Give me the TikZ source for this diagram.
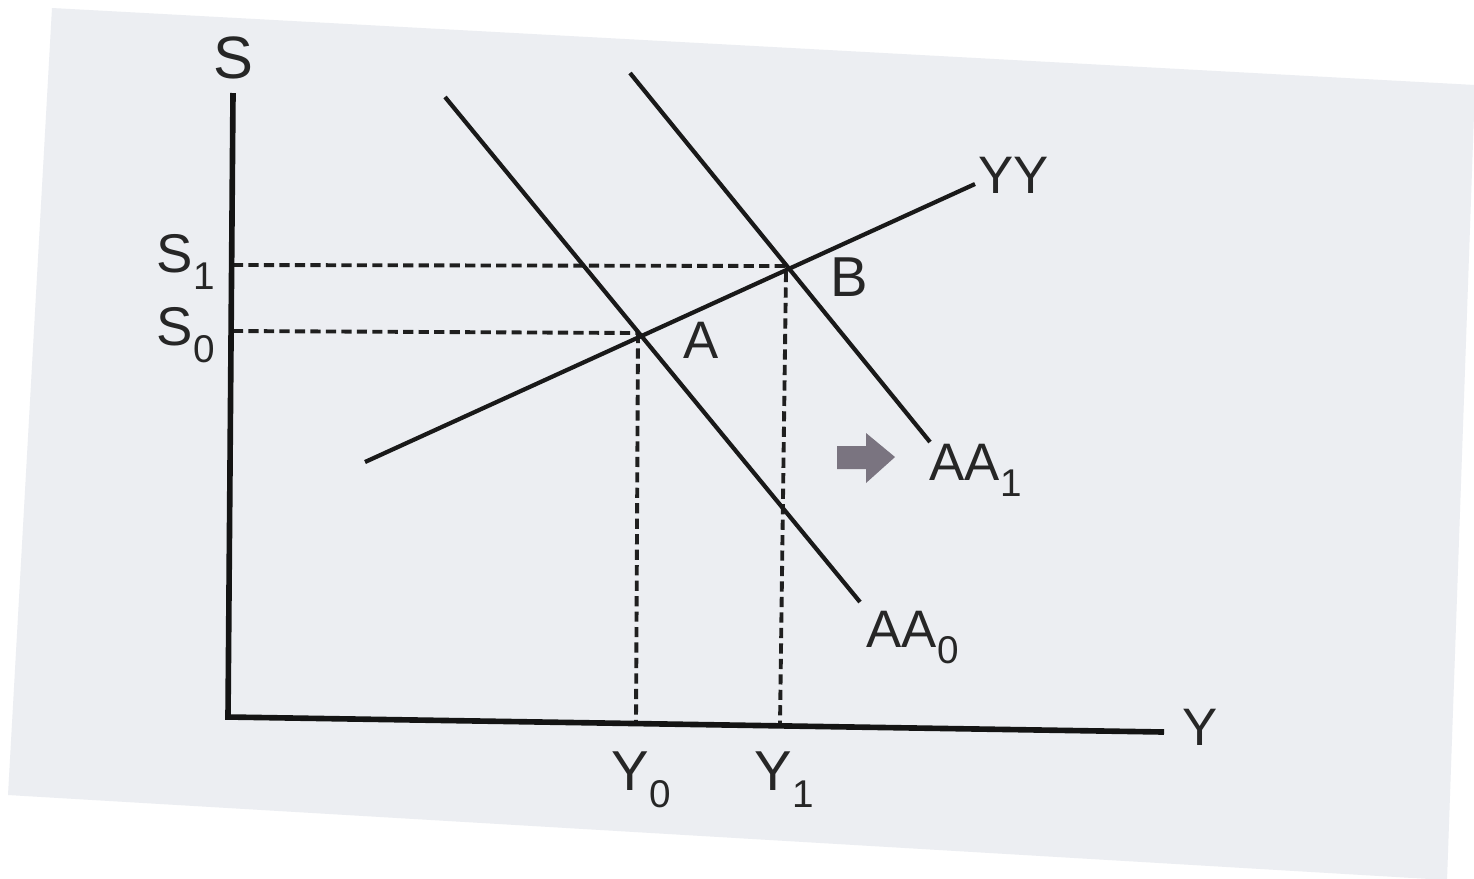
\documentclass[tikz,border=0pt]{standalone}
\usepackage{fontspec}
\setmainfont{Liberation Sans}
\newcommand\lbsub[1]{\raisebox{-0.6ex}{\fontsize{11}{11}\selectfont #1}}
\begin{document}
\begin{tikzpicture}[x=0.01cm,y=-0.01cm,
  axis/.style={line width=1.6pt,black!92},
  curve/.style={line width=1.2pt,black!90},
  guide/.style={line width=1.1pt,black!88,dash pattern=on 2.9pt off 1.5pt},
  lbl/.style={inner sep=0pt,anchor=base west,font=\fontsize{15}{15}\selectfont,text=black!85}]
\useasboundingbox[fill=white] (0,0) rectangle (1474,878);
% scanned page
\fill[fill={rgb,255:red,236;green,238;blue,242}] (52,8) -- (1475,85) -- (1447,880) -- (8,795) -- cycle;

% named points
\coordinate (O) at (228,717);
\coordinate (Stop) at (233,93);
\coordinate (Yend) at (1164,732);
\coordinate (YYs) at (365,462);
\coordinate (YYe) at (975,184);
\coordinate (AA0s) at (445,97);
\coordinate (AA0e) at (860,602);
\coordinate (AA1s) at (630,73);
\coordinate (AA1e) at (930,442);
\coordinate (A) at (638,333);
\coordinate (B) at (787,266);
\coordinate (S1) at (233,265);
\coordinate (S0) at (233,331);
\coordinate (Y0) at (636,722);
\coordinate (Y1) at (780,724);
\coordinate (B1) at (786,272);

% dashed guides
\draw[guide] (S1) -- (B);
\draw[guide] (S0) -- (A);
\draw[guide] (A) -- (Y0);
\draw[guide] (B1) -- (Y1);

% axes
\draw[axis] (Stop) -- (O) -- (Yend);

% curves
\draw[curve] (YYs) -- (YYe);
\draw[curve] (AA0s) -- (AA0e);
\draw[curve] (AA1s) -- (AA1e);

% shift arrow
\fill[fill={rgb,255:red,122;green,116;blue,128}] (837,446) -- (866,446) -- (866,433) -- (895,457) -- (866,483) -- (866,469) -- (837,469) -- cycle;

% labels
\node[lbl,font=\fontsize{17}{17}\selectfont,anchor=base] (lS) at (233,78) {S};
\node[lbl,font=\fontsize{15.5}{15.5}\selectfont] (lS1) at (156,272) {S\lbsub{1}};
\node[lbl,font=\fontsize{15.5}{15.5}\selectfont] (lS0) at (156,345) {S\lbsub{0}};
\node[lbl] (lYY) at (978,193) {YY};
\node[lbl,font=\fontsize{16}{16}\selectfont] (lB) at (830,296) {B};
\node[lbl] (lA) at (683,358) {A};
\node[lbl] (lAA1) at (929,480) {AA\lbsub{1}};
\node[lbl] (lAA0) at (866,647) {AA\lbsub{0}};
\node[lbl,font=\fontsize{16}{16}\selectfont] (lY0) at (611,790) {Y\lbsub{0}};
\node[lbl,font=\fontsize{16}{16}\selectfont] (lY1) at (754,790) {Y\lbsub{1}};
\node[lbl] (lY) at (1182,745) {Y};
\end{tikzpicture}
\end{document}
